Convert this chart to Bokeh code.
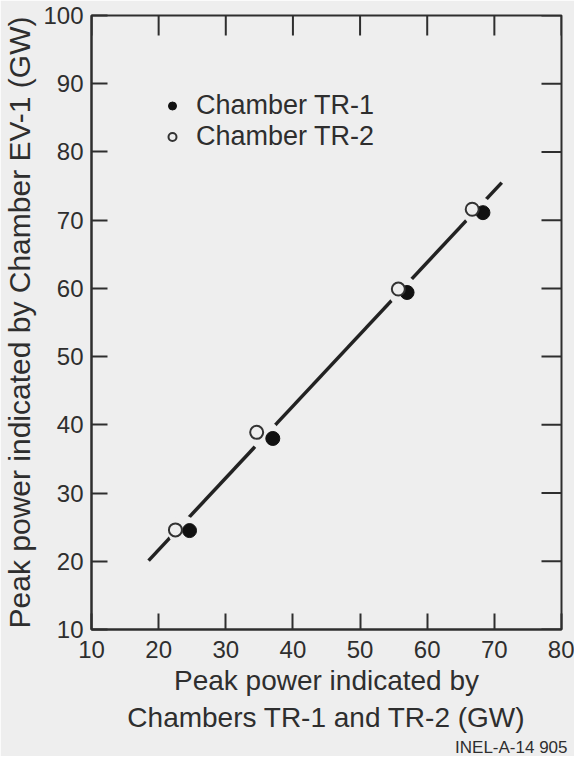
import math
from bokeh.plotting import figure
from bokeh.models import Legend, LegendItem, Title, FixedTicker, Range1d
from bokeh.embed import file_html
from bokeh.resources import INLINE

# ---- data ----
tr1_x = [24.6, 37.0, 57.0, 68.3]
tr1_y = [24.5, 38.0, 59.4, 71.1]
tr2_x = [22.5, 34.6, 55.7, 66.7]
tr2_y = [24.6, 38.9, 59.9, 71.6]
fit_x = [18.5, 71.1]
fit_y = [20.1, 75.5]
x_ticks = [10, 20, 30, 40, 50, 60, 70, 80]
y_ticks = [10, 20, 30, 40, 50, 60, 70, 80, 90, 100]

BG = "#eeeeee"
INK = "#2e2e2e"
FONT = "Liberation Sans"

p = figure(width=574, height=756, x_range=Range1d(x_ticks[0], x_ticks[-1]),
           y_range=Range1d(y_ticks[0], y_ticks[-1]),
           output_backend="svg", toolbar_location=None,
           min_border_left=91, min_border_right=13, min_border_top=15, min_border_bottom=0)
p.background_fill_color = BG
p.border_fill_color = BG
p.outline_line_color = INK
p.outline_line_width = 2
p.xgrid.visible = False
p.ygrid.visible = False

for ax, ticks in ((p.xaxis[0], x_ticks), (p.yaxis[0], y_ticks)):
    ax.ticker = FixedTicker(ticks=ticks)
    ax.minor_tick_line_color = None
    ax.major_tick_in = 16
    ax.major_tick_out = 0
    ax.major_tick_line_color = INK
    ax.major_tick_line_width = 2
    ax.axis_line_color = INK
    ax.axis_line_width = 2
    ax.major_label_text_font = FONT
    ax.major_label_text_color = INK
    ax.major_label_text_font_size = "24px"
    ax.major_label_standoff = 8
    ax.axis_label_text_font = FONT
    ax.axis_label_text_font_style = "normal"
    ax.axis_label_text_color = INK

p.xaxis.major_label_standoff = 11
p.xaxis.axis_label = "Peak power indicated by\nChambers TR-1 and TR-2 (GW)"
p.yaxis.axis_label = "Peak power indicated by Chamber EV-1 (GW)"
p.xaxis.axis_label_text_font_size = "28px"
p.yaxis.axis_label_text_font_size = "30px"
p.xaxis.axis_label_standoff = 4
p.xaxis.axis_label_text_line_height = 1.2
p.yaxis.axis_label_standoff = 4

# figure id in the lower right corner
p.add_layout(Title(text="INEL-A-14 905", align="right", text_font=FONT,
                   text_font_size="17px", text_font_style="normal", text_color=INK,
                   standoff=0, offset=-6), "below")

# inward ticks on the top and right edges of the frame
p.ray(x=x_ticks, y=[y_ticks[-1]] * len(x_ticks), length=20, length_units="screen",
      angle=-math.pi / 2, line_color=INK, line_width=2)
p.ray(x=[x_ticks[-1]] * len(y_ticks), y=y_ticks, length=20, length_units="screen",
      angle=math.pi, line_color=INK, line_width=2)

# fitted line with gaps around the data points
p.line(fit_x, fit_y, line_color="#222222", line_width=3.5)
mid_x = [(a + b) / 2 for a, b in zip(tr1_x, tr2_x)]
mid_y = [(a + b) / 2 for a, b in zip(tr1_y, tr2_y)]
p.scatter(mid_x, mid_y, size=30, fill_color=BG, line_color=None)

r1 = p.scatter(tr1_x, tr1_y, size=14, fill_color="#111111", line_color="#111111")
r2 = p.scatter(tr2_x, tr2_y, size=13, fill_color=BG, line_color="#333333", line_width=2)

legend = Legend(items=[LegendItem(label="Chamber TR-1", renderers=[r1]),
                       LegendItem(label="Chamber TR-2", renderers=[r2])],
                location=(71, 477), orientation="vertical")
legend.padding = 0
legend.margin = 0
legend.spacing = 0
legend.label_height = 29
legend.glyph_height = 29
legend.glyph_width = 20
legend.label_standoff = 14
legend.border_line_color = None
legend.background_fill_alpha = 0
legend.label_text_font = FONT
legend.label_text_font_size = "27px"
legend.label_text_color = INK
p.add_layout(legend, "center")

open("out.html", "w").write(file_html(p, INLINE))
